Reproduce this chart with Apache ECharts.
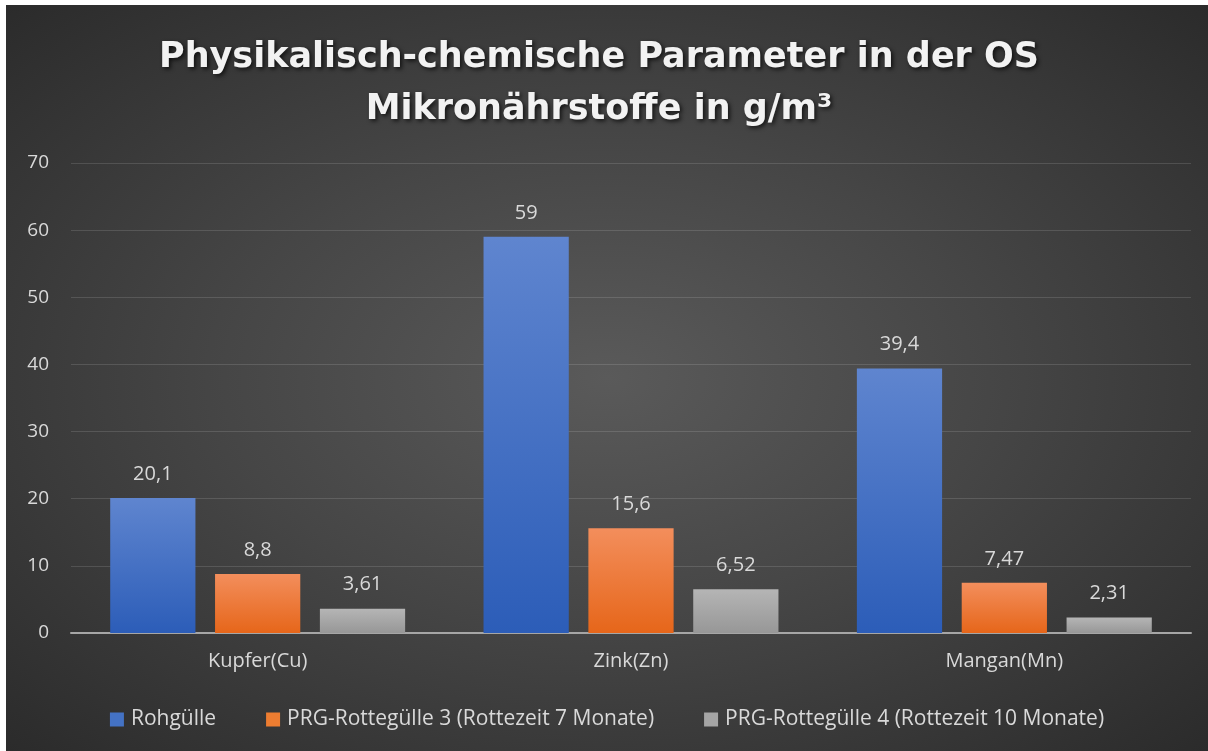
<!DOCTYPE html>
<html>
<head>
    <meta charset="UTF-8">
    <title>Mikronährstoffe</title>
    <script src="https://cdn.jsdelivr.net/npm/echarts@6/dist/echarts.min.js"></script>
    <style>
        html, body { margin: 0; padding: 0; background: #ffffff; }
        #main {
            position: absolute; left: 6px; top: 5px;
            width: 1202px; height: 746px;
            background: radial-gradient(ellipse at 50% 50%, #5a5a5a 0%, #464646 45%, #2b2b2b 100%);
        }
    </style>
</head>
<body>
    <div id="main"></div>
    <script type="text/javascript">
        // Daten
        var categories = ['Kupfer(Cu)', 'Zink(Zn)', 'Mangan(Mn)'];
        var seriesNames = ['Rohgülle', 'PRG-Rottegülle 3 (Rottezeit 7 Monate)', 'PRG-Rottegülle 4 (Rottezeit 10 Monate)'];
        var rohguelle = [20.1, 59, 39.4];
        var rotte3 = [8.8, 15.6, 7.47];
        var rotte4 = [3.61, 6.52, 2.31];
        var yTicks = [0, 10, 20, 30, 40, 50, 60, 70];

        var myChart = echarts.init(document.getElementById('main'));

        function grad(top, bottom) {
            return new echarts.graphic.LinearGradient(0, 0, 0, 1, [
                { offset: 0, color: top },
                { offset: 1, color: bottom }
            ]);
        }

        var fills = [
            grad('#5f85cf', '#2c5db8'),
            grad('#f38e5c', '#e6661a'),
            grad('#b5b5b5', '#979797')
        ];
        var legendColors = ['#4472c4', '#ed7d31', '#a5a5a5'];

        var labelCfg = {
            show: true,
            position: 'top',
            distance: 14,
            color: '#d9d9d9',
            fontSize: 20,
            fontFamily: 'Open Sans',
            formatter: function (p) { return String(p.value).replace('.', ','); }
        };

        var datasets = [rohguelle, rotte3, rotte4];
        var series = [];
        for (var i = 0; i < datasets.length; i++) {
            series.push({
                name: seriesNames[i],
                type: 'bar',
                data: datasets[i],
                barGap: '23%',
                barCategoryGap: '21%',
                itemStyle: { color: fills[i] },
                label: labelCfg
            });
        }

        myChart.setOption({
            backgroundColor: 'transparent',
            color: legendColors,
            title: {
                text: 'Physikalisch-chemische Parameter in der OS\nMikronährstoffe in g/m³',
                left: 588,
                top: 22,
                textAlign: 'center',
                textStyle: {
                    color: '#f2f2f2',
                    fontSize: 35,
                    fontWeight: 'bold',
                    fontFamily: 'DejaVu Sans',
                    lineHeight: 52,
                    textShadowColor: 'rgba(0,0,0,0.7)',
                    textShadowBlur: 4,
                    textShadowOffsetX: 2,
                    textShadowOffsetY: 2
                }
            },
            legend: {
                data: seriesNames.map(function (n, k) {
                    return { name: n, itemStyle: { color: legendColors[k] } };
                }),
                bottom: 16,
                left: 'center',
                itemWidth: 14,
                itemHeight: 14,
                itemGap: 50,
                icon: 'rect',
                textStyle: { color: '#d9d9d9', fontSize: 21, fontFamily: 'Open Sans', padding: [0, 0, 0, 2] }
            },
            grid: { left: 65, right: 17, top: 158, bottom: 118 },
            xAxis: {
                type: 'category',
                data: categories,
                axisLine: { lineStyle: { color: '#a6a6a6', width: 2 } },
                axisTick: { show: false },
                axisLabel: { color: '#d9d9d9', fontSize: 20, fontFamily: 'Open Sans', margin: 18 }
            },
            yAxis: {
                type: 'value',
                min: yTicks[0],
                max: yTicks[yTicks.length - 1],
                interval: 10,
                axisLine: { show: false },
                axisTick: { show: false },
                axisLabel: { color: '#d9d9d9', fontSize: 19, fontFamily: 'Open Sans', margin: 22 },
                splitLine: { lineStyle: { color: 'rgba(255,255,255,0.13)', width: 1 } }
            },
            series: series
        });
    </script>
</body>
</html>
